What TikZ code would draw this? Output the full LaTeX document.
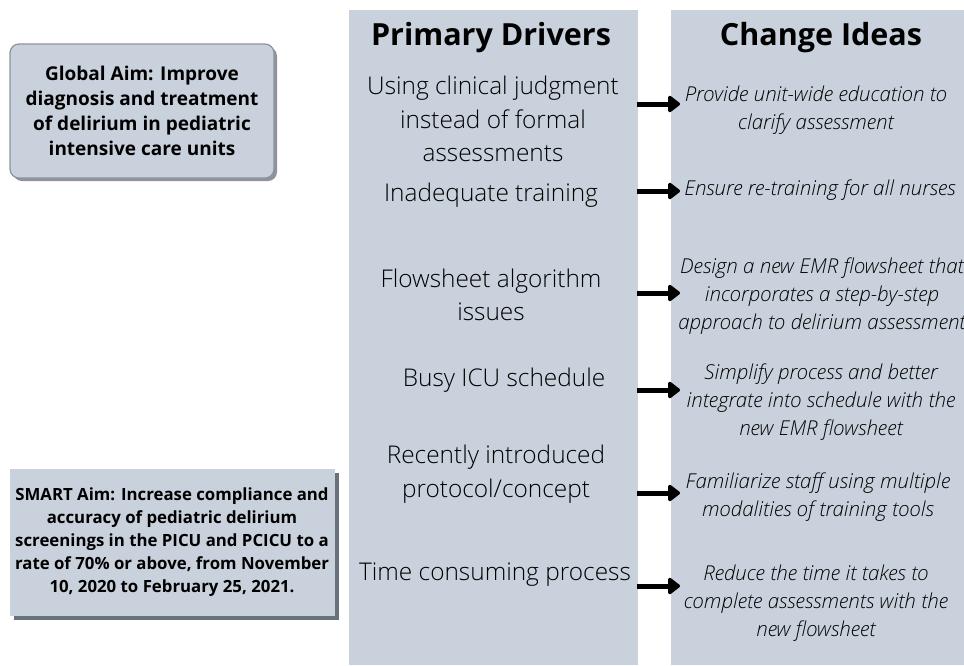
\documentclass[tikz,border=0pt]{standalone}
\usepackage{fontspec}
\setmainfont{Open Sans}
\newfontfamily\lightfont{Open Sans Light}
\usetikzlibrary{arrows.meta, shadows}

\definecolor{panel}{HTML}{C9D1DC}
\definecolor{rim}{HTML}{8C939C}
\definecolor{shade}{HTML}{68727B}

\begin{document}
\begin{tikzpicture}[x=1pt, y=-1pt,
  column/.style={fill=panel, anchor=north west, minimum width=#1, minimum height=655pt, inner sep=0pt},
  heading/.style={font=\bfseries\fontsize{30.5}{36}\selectfont},
  driver/.style={font=\lightfont\fontsize{24.4}{33.5}\selectfont, align=center},
  idea/.style={font=\lightfont\itshape\fontsize{20.5}{28}\selectfont, align=center},
  aim/.style={align=center, fill=panel, inner sep=0pt},
  arr/.style={line width=5pt, -{Triangle[length=13pt, width=19pt, round]}}]
\useasboundingbox (0,0) rectangle (964,665);

\node[column=289pt] (drivers) at (349,10) {};
\node[column=293pt] (ideas) at (671,10) {};

\node[aim, font=\bfseries\fontsize{19}{25}\selectfont, draw=rim, line width=1.2pt, rounded corners=9pt,
  minimum width=264pt, minimum height=134pt,
  drop shadow={shadow xshift=3pt, shadow yshift=-3pt, fill=rim, opacity=1}]
  (global) at (142,111) {Global Aim: Improve\\diagnosis and treatment\\of delirium in pediatric\\intensive care units};
\node[aim, font=\bfseries\fontsize{16.8}{23}\selectfont, minimum width=325pt, minimum height=147pt,
  drop shadow={shadow xshift=4.5pt, shadow yshift=-4.5pt, fill=shade, opacity=1}]
  (smart) at (172,542) {SMART Aim: Increase compliance and\\accuracy of pediatric delirium\\screenings in the PICU and PCICU to a\\rate of 70\% or above, from November\\10, 2020 to February 25, 2021.};

\node[heading] (h1) at (491,38) {Primary Drivers};
\node[heading] (h2) at (821,38) {Change Ideas};

\node[driver] (d1) at (493,119) {Using clinical judgment\\instead of formal\\assessments};
\node[driver] (d2) at (491,195) {Inadequate training};
\node[driver] (d3) at (491,295) {Flowsheet algorithm\\issues};
\node[driver] (d4) at (504,380) {Busy ICU schedule};
\node[driver] (d5) at (496,474) {Recently introduced\\protocol/concept};
\node[driver] (d6) at (495,575) {Time consuming process};

\node[idea] (c1) at (816,110) {Provide unit-wide education to\\clarify assessment};
\node[idea] (c2) at (820,190) {Ensure re-training for all nurses};
\node[idea] (c3) at (822,296) {Design a new EMR flowsheet that\\incorporates a step-by-step\\approach to delirium assessment};
\node[idea] (c4) at (821,402) {Simplify process and better\\integrate into schedule with the\\new EMR flowsheet};
\node[idea] (c5) at (818,497) {Familiarize staff using multiple\\modalities of training tools};
\node[idea] (c6) at (816,603) {Reduce the time it takes to\\complete assessments with the\\new flowsheet};

\coordinate (a1) at (637,104);
\coordinate (a2) at (637,191);
\coordinate (a3) at (637,293);
\coordinate (a4) at (637,390);
\coordinate (a5) at (637,493);
\coordinate (a6) at (637,586);
\draw[arr] (a1) -- ++(43,0);
\draw[arr] (a2) -- ++(43,0);
\draw[arr] (a3) -- ++(43,0);
\draw[arr] (a4) -- ++(43,0);
\draw[arr] (a5) -- ++(43,0);
\draw[arr] (a6) -- ++(43,0);
\end{tikzpicture}
\end{document}
